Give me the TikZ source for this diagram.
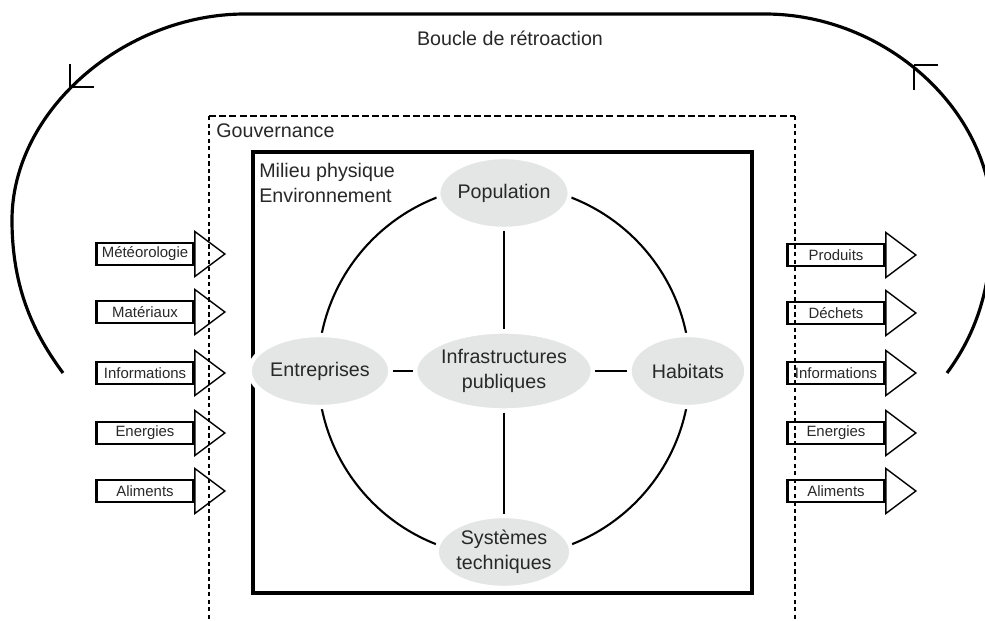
\documentclass[tikz,border=0pt]{standalone}
\usepackage{fontspec}
\setmainfont{Liberation Sans}
\usetikzlibrary{shapes.geometric}
\definecolor{bulle}{RGB}{228,229,229}
\definecolor{encre}{RGB}{40,40,40}
\tikzset{
  flux/.style={draw, line width=1.6pt, minimum width=1.94cm, minimum height=0.44cm, inner sep=0pt, text=encre, font=\fontsize{8.5}{10}\selectfont},
  tete/.style={line width=0.8pt},
  bulle/.style={ellipse, fill=bulle, draw=white, line width=2.5pt, inner sep=0pt, minimum width=2.34cm, minimum height=1.44cm, align=center, text=encre},
  lien/.style={line width=1.2pt}
}
\begin{document}
\begin{tikzpicture}[x=0.02cm, y=-0.02cm, font=\fontsize{11.2}{14.2}\selectfont]
                \clip (0,0) rectangle (985,621);
                \fill[white] (0,0) rectangle (985,621);
                \coordinate(loop_l) at (63, 373);
                \coordinate(loop_r) at (947, 373);
                \coordinate(tick_l) at (70, 87);
                \coordinate(tick_r) at (914, 65);
                \draw[line width=1.8pt]
                    (loop_l) .. controls (35,335) and (12,290) .. (12,220)
                    .. controls (12,110) and (125,14) .. (245,14) -- (765,14)
                    .. controls (885,14) and (992,110) .. (992,220)
                    .. controls (992,290) and (975,335) .. (loop_r);
                \draw[line width=0.9pt] (tick_l) -- ++(0,-23) (tick_l) -- ++(24,0);
                \draw[line width=0.9pt] (tick_r) -- ++(24,0) (tick_r) -- ++(0,25);
                \node(boucle) at (510, 38) [text=encre] {Boucle de rétroaction};
                % gouvernance
                \draw[line width=1.5pt, dash pattern=on 4pt off 1.8pt] (209,116) -- (795,116);
                \draw[line width=1.5pt, dash pattern=on 2.4pt off 1.9pt] (209,116) -- (209,621);
                \draw[line width=1.5pt, dash pattern=on 2.4pt off 1.9pt] (795,116) -- (795,621);
                \node(gouv) at (216, 131) [anchor=west, inner sep=0pt, text=encre] {Gouvernance};
                % milieu physique
                \draw[line width=1.9pt] (253,152) rectangle (752,593);
                \node(milieu) at (259, 183) [anchor=west, inner sep=0pt, align=left, text=encre] {Milieu physique\\Environnement};
                \coordinate(centre) at (504, 371);
                \draw[lien] (centre) circle[radius=186];
                \node(infra) at (504, 371) [bulle, minimum width=2.84cm, minimum height=1.58cm] {Infrastructures\\publiques};
                \node(pop)   at (504, 193) [bulle] {Population};
                \node(ent)   at (320, 371) [bulle] {Entreprises};
                \node(hab)   at (688, 371) [bulle] {Habitats};
                \node(sys)   at (504, 552) [bulle] {Systèmes\\techniques};
                \draw[lien] (pop) -- (infra);
                \draw[lien] (infra) -- (sys);
                \draw[lien] (ent) -- (infra);
                \draw[lien] (infra) -- (hab);
                % flux entrants et sortants
                \foreach \nom/\y/\txt in {in1/254/Météorologie, in2/312/Matériaux, in3/373/Informations, in4/433/Energies, in5/491/Aliments}
                {
                    \node(\nom) at (145, \y) [flux] {\txt};
                    \draw[tete] (\nom.east) ++(0,-22.5) -- ++(30,22.5) -- ++(-30,22.5) -- cycle;
                }
                \foreach \nom/\y/\txt in {out1/255/Produits, out2/313/Déchets, out3/373/Informations, out4/433/Energies, out5/491/Aliments}
                {
                    \node(\nom) at (836, \y) [flux] {\txt};
                    \draw[tete] (\nom.east) ++(0,-22.5) -- ++(30,22.5) -- ++(-30,22.5) -- cycle;
                }
            \end{tikzpicture}
\end{document}
